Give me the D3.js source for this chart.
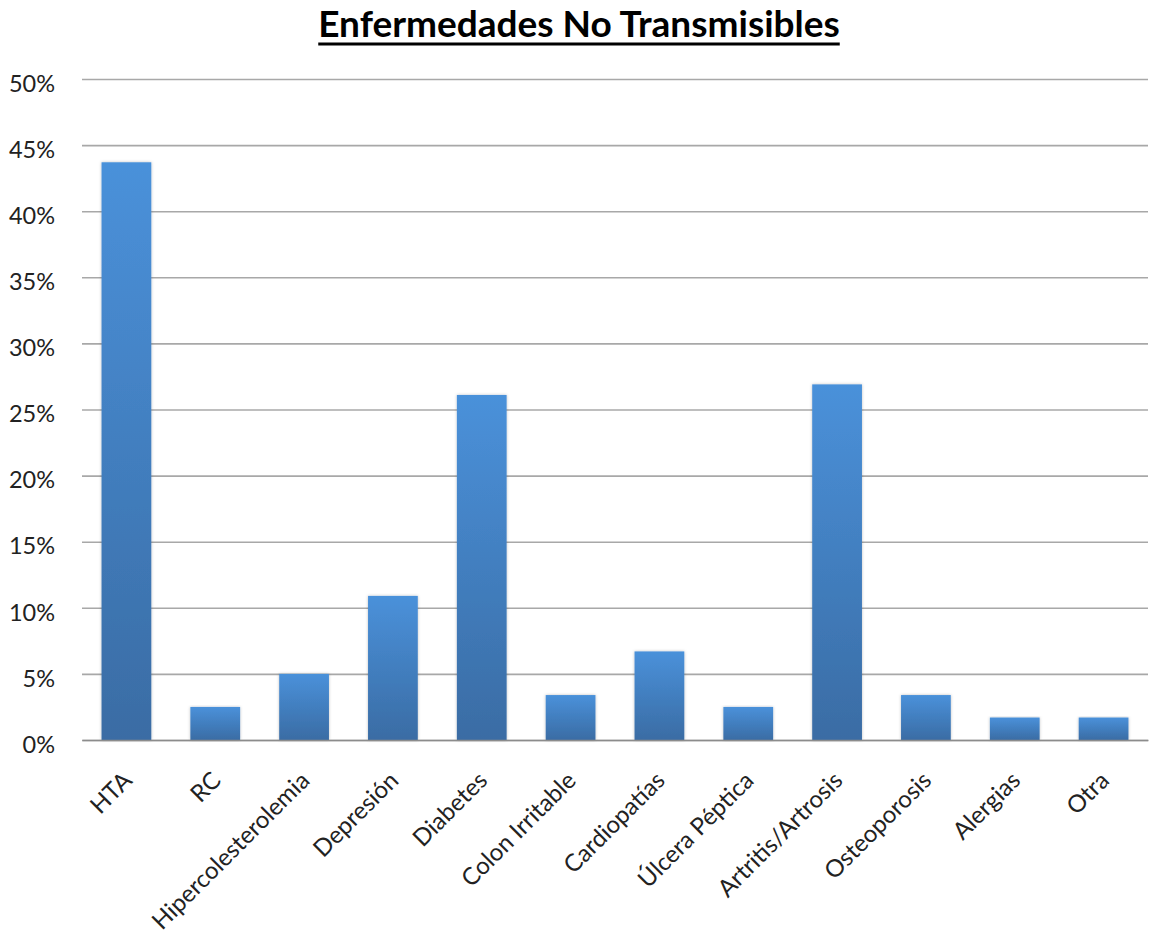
<!DOCTYPE html>
<html>
<head>
<meta charset="utf-8">
<script src="https://cdn.jsdelivr.net/npm/d3@7"></script>
<style>
  html, body { margin: 0; padding: 0; background: #fff; }
  svg { display: block; }
  text { font-family: Lato, "Open Sans", "Liberation Sans", sans-serif; }
</style>
</head>
<body>
<svg id="chart" width="1150" height="936"></svg>
<script>
// Chronic (non-communicable) diseases, share of respondents
const categories = ["HTA", "RC", "Hipercolesterolemia", "Depresión", "Diabetes",
  "Colon Irritable", "Cardiopatías", "Úlcera Péptica", "Artritis/Artrosis",
  "Osteoporosis", "Alergias", "Otra"];
const values = [0.437, 0.025, 0.050, 0.109, 0.261, 0.034, 0.067, 0.025, 0.269, 0.034, 0.017, 0.017];
const yTicks = [0, 0.05, 0.10, 0.15, 0.20, 0.25, 0.30, 0.35, 0.40, 0.45, 0.50];
const title = "Enfermedades No Transmisibles";

const svg = d3.select("#chart");
const margin = { left: 82, right: 2, top: 79, bottom: 196 };
const W = 1150, H = 936;

const x = d3.scaleBand().domain(categories)
  .range([margin.left, W - margin.right]).paddingInner(0.44).paddingOuter(0.22);
const y = d3.scaleLinear().domain([0, 0.5]).range([H - margin.bottom, margin.top]);

// bar fill: lighter blue at the top fading to a deeper blue at the base
const defs = svg.append("defs");
const grad = defs.append("linearGradient").attr("id", "barFill")
  .attr("x1", 0).attr("y1", 0).attr("x2", 0).attr("y2", 1);
grad.append("stop").attr("offset", "0%").attr("stop-color", "#4a91da");
grad.append("stop").attr("offset", "100%").attr("stop-color", "#3a6ca4");
const shadow = defs.append("filter").attr("id", "barShadow")
  .attr("x", "-20%").attr("y", "-5%").attr("width", "140%").attr("height", "110%");
shadow.append("feDropShadow").attr("dx", 0).attr("dy", 0).attr("stdDeviation", 1.5)
  .attr("flood-color", "#000").attr("flood-opacity", 0.25);

// title with a heavy underline
const titleText = svg.append("text")
  .attr("x", 579).attr("y", 37)
  .attr("text-anchor", "middle")
  .attr("font-size", 37).attr("font-weight", "bold")
  .attr("fill", "#000")
  .text(title);
const tw = titleText.node().getComputedTextLength();
svg.append("line")
  .attr("x1", 579 - tw / 2).attr("x2", 579 + tw / 2)
  .attr("y1", 44).attr("y2", 44)
  .attr("stroke", "#000").attr("stroke-width", 3);

// horizontal gridlines and percent labels
const yAxis = d3.axisLeft(y).tickValues(yTicks)
  .tickSize(-(W - margin.left - margin.right))
  .tickFormat(d3.format(".0%"));
const gy = svg.append("g").attr("transform", `translate(${margin.left},0)`).call(yAxis);
gy.select(".domain").remove();
gy.selectAll(".tick line").attr("stroke", "#a8a8a8").attr("stroke-width", 1.6);
gy.selectAll(".tick text")
  .attr("x", -27).attr("dy", "0.52em")
  .attr("font-size", 23.5).attr("fill", "#222");

// bars
svg.append("g").selectAll("rect").data(values).join("rect")
  .attr("x", (d, i) => x(categories[i]))
  .attr("y", d => y(d))
  .attr("width", x.bandwidth())
  .attr("height", d => y(0) - y(d))
  .attr("fill", "url(#barFill)")
  .attr("filter", "url(#barShadow)");

// category axis with rotated labels
const xAxis = d3.axisBottom(x).tickSize(0).tickPadding(0);
const gx = svg.append("g").attr("transform", `translate(0,${y(0)})`).call(xAxis);
gx.select(".domain").attr("stroke", "#8c8c8c").attr("stroke-width", 1.6);
gx.selectAll(".tick text")
  .attr("text-anchor", "end")
  .attr("font-size", 24).attr("fill", "#222")
  .attr("y", 0).attr("dy", 0)
  .attr("transform", "translate(7,42) rotate(-45)");
</script>
</body>
</html>
